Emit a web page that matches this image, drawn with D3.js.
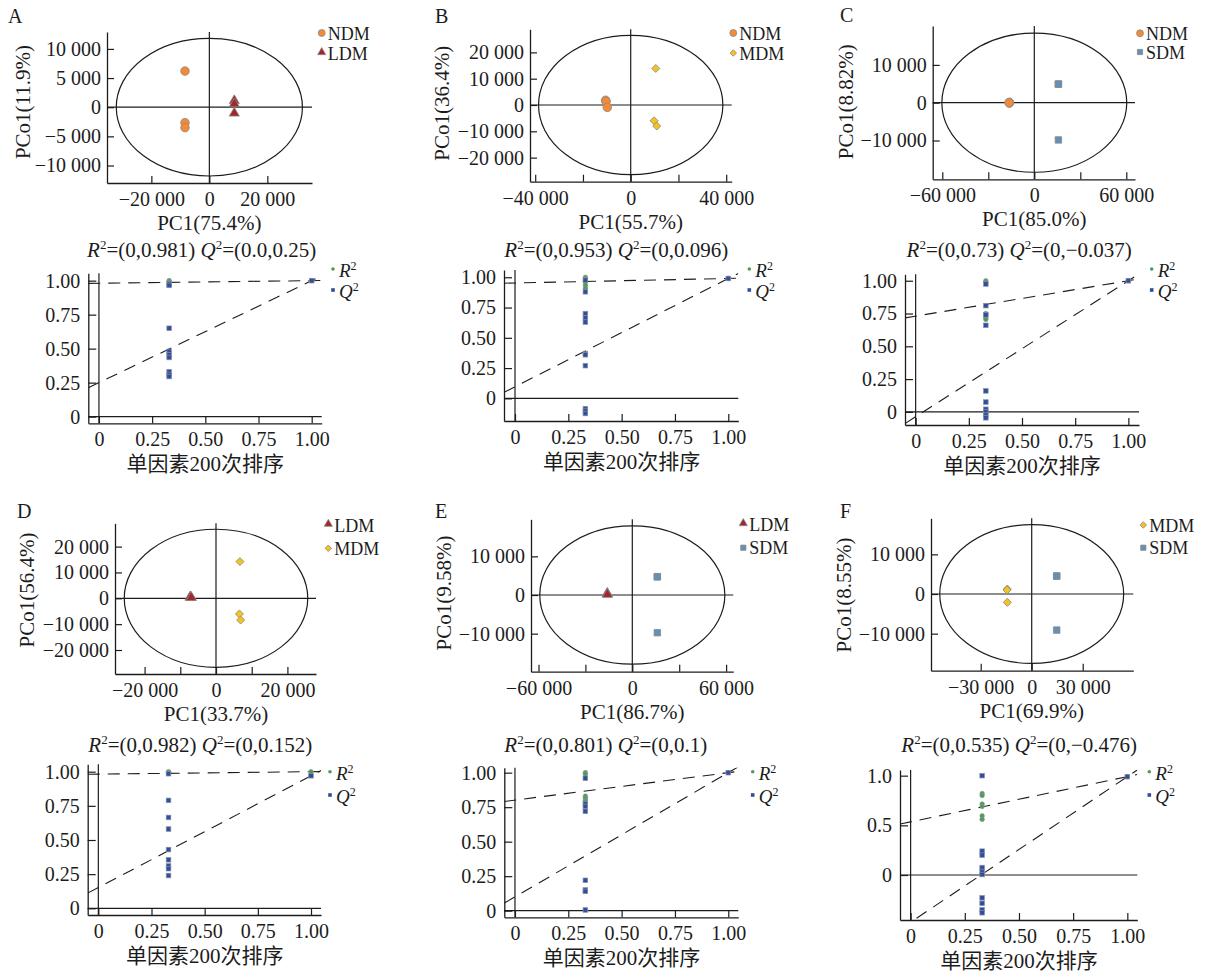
<!DOCTYPE html>
<html><head><meta charset="utf-8">
<script src="https://cdn.jsdelivr.net/npm/d3@7"></script>
<style>
body{margin:0;background:#fff;}
svg{display:block;font-family:"Liberation Serif","Noto Sans CJK SC",serif;}
</style></head><body>
<svg id="chart" width="1209" height="972"></svg>
<script>
// ================= DATA =================
const panelLetters = ["A","B","C","D","E","F"];
const pc1Labels  = ["PC1(75.4%)","PC1(55.7%)","PC1(85.0%)","PC1(33.7%)","PC1(86.7%)","PC1(69.9%)"];
const pco1Labels = ["PCo1(11.9%)","PCo1(36.4%)","PCo1(8.82%)","PCo1(56.4%)","PCo1(9.58%)","PCo1(8.55%)"];
const groupPairs = [["NDM","LDM"],["NDM","MDM"],["NDM","SDM"],["LDM","MDM"],["LDM","SDM"],["MDM","SDM"]];

// PCA scores [PC1, PCo1]
const pcaA_NDM = [[-8400,6200],[-8400,-2650],[-8400,-3500]];
const pcaA_LDM = [[8600,950],[8600,400],[8600,-1200]];
const pcaB_NDM = [[-10500,1800],[-10300,1300],[-9800,-900]];
const pcaB_MDM = [[10500,13900],[9800,-6000],[10900,-8000]];
const pcaC_NDM = [[-16300,100],[-16200,-100],[-16400,0]];
const pcaC_SDM = [[15700,4950],[15700,4900],[15700,-9850]];
const pcaD_LDM = [[-7100,200],[-7300,0],[-6900,-100]];
const pcaD_MDM = [[6700,14200],[6550,-6050],[6900,-8400]];
const pcaE_LDM = [[-16000,200],[-16100,0],[-15900,-100]];
const pcaE_SDM = [[16000,4750],[16000,4700],[16000,-9750]];
const pcaF_MDM = [[-14350,1250],[-14500,1000],[-14350,-2100]];
const pcaF_SDM = [[14700,4550],[14700,4500],[14700,-9100]];
const pcaScores = [[pcaA_NDM,pcaA_LDM],[pcaB_NDM,pcaB_MDM],[pcaC_NDM,pcaC_SDM],
                   [pcaD_LDM,pcaD_MDM],[pcaE_LDM,pcaE_SDM],[pcaF_MDM,pcaF_SDM]];
// confidence ellipse radii [PC1, PCo1]
const ellipseRadii = [[32100,11800],[38600,26500],[60300,18400],[25700,26700],[59200,17900],[54100,17500]];

// axis ticks (marks) and which of them carry labels
const pcaXTicks  = [[-20000,0,20000],[-40000,-20000,0,20000,40000],[-60000,-30000,0,30000,60000],
                    [-20000,-10000,0,10000,20000],[-60000,-30000,0,30000,60000],[-30000,0,30000]];
const pcaXLabels = [[-20000,0,20000],[-40000,0,40000],[-60000,0,60000],[-20000,0,20000],[-60000,0,60000],[-30000,0,30000]];
const pcaYTicks  = [[10000,5000,0,-5000,-10000],[20000,10000,0,-10000,-20000],[10000,0,-10000],
                    [20000,10000,0,-10000,-20000],[10000,0,-10000],[10000,0,-10000]];

// permutation test (200 permutations)
const permX = 0.33;
const permR2A = [1.0,0.995,0.985];
const permQ2A = [0.975,0.965,0.65,0.48,0.455,0.435,0.33,0.31,0.295];
const permR2B = [1.0,0.99,0.975,0.96,0.935,0.91];
const permQ2B = [0.975,0.88,0.70,0.665,0.63,0.37,0.36,0.27,-0.085,-0.105,-0.125];
const permR2C = [1.0,0.99,0.75,0.735,0.72,0.705];
const permQ2C = [0.975,0.81,0.74,0.66,0.16,0.075,0.02,0.0,-0.025,-0.045];
const permR2D = [1.0,0.995,0.99];
const permQ2D = [0.985,0.79,0.665,0.58,0.43,0.355,0.31,0.29,0.24];
const permR2E = [1.0,0.99,0.83,0.815,0.80,0.79];
const permQ2E = [0.96,0.775,0.755,0.72,0.22,0.15,0.14,0.005];
const permR2F = [0.82,0.80,0.715,0.69,0.595,0.56];
const permQ2F = [1.0,0.24,0.20,0.075,0.035,0.005,-0.23,-0.285,-0.35,-0.38];
const permR2 = [permR2A,permR2B,permR2C,permR2D,permR2E,permR2F];
const permQ2 = [permQ2A,permQ2B,permQ2C,permQ2D,permQ2E,permQ2F];
const origR2 = [1.0,0.99,1.0,1.0,1.0,0.99];
const origQ2 = [1.0,0.99,1.0,0.97,1.0,0.99];
const r2Intercepts = [0.981,0.953,0.73,0.982,0.801,0.535];
const q2Intercepts = [0.25,0.096,-0.037,0.152,0.1,-0.476];
const r2Text = ["=(0,0.981) ","=(0,0.953) ","=(0,0.73) ","=(0,0.982) ","=(0,0.801) ","=(0,0.535) "];
const q2Text = ["=(0.0,0.25)","=(0,0.096)","=(0,\u22120.037)","=(0,0.152)","=(0,0.1)","=(0,\u22120.476)"];
const permYTicks = [[0,0.25,0.5,0.75,1],[0,0.25,0.5,0.75,1],[0,0.25,0.5,0.75,1],[0,0.25,0.5,0.75,1],[0,0.25,0.5,0.75,1],[0,0.5,1]];
const permXTicks = [0,0.25,0.5,0.75,1];
const permXTitle = "单因素200次排序";

// ================= STYLE / LAYOUT =================
const INK = "#1c1c1c";
const groupStyle = {
  NDM:{type:"circle",  fill:"#F48A35", size:58},
  LDM:{type:"triangle",fill:"#A3262C", size:44},
  MDM:{type:"diamond", fill:"#F6C21E", size:32},
  SDM:{type:"square",  fill:"#6190B8", size:42}
};
const pcaLayout = [
  {l:107,  r:312,   t:32,    b:183,   xd:[-35300,35400], yd:[-13000,12900], let:[8,22.5],   yt:[23,102],    legX:321.7, legY:[33,53.3]},
  {l:530,  r:731.7, t:29.3,  b:181.7, xd:[-42180,42300], yd:[-29160,28780], let:[435,22.5], yt:[441.7,103.3],legX:733.3, legY:[33,53]},
  {l:932.7,r:1135,  t:26,    b:179.3, xd:[-66260,65670], yd:[-20260,20290], let:[840,22],   yt:[845.5,101.7],legX:1140,  legY:[33.3,52]},
  {l:115,  r:316,   t:523.3, b:674,   xd:[-28290,28010], yd:[-29280,29010], let:[17,518],   yt:[26.7,590],   legX:328.3, legY:[525,548.3]},
  {l:531,  r:733.3, t:519.3, b:671.7, xd:[-64800,64600], yd:[-19840,19590], let:[435,518],  yt:[443.3,593],  legX:743.3, legY:[524.3,547.7]},
  {l:931,  r:1133.3,t:518.3, b:670.7, xd:[-59240,59760], yd:[-19340,19090], let:[840,518],  yt:[843.3,595],  legX:1143.3,legY:[525,547.7]}
];
const permLayout = [
  {l:88.3, r:321.7, t:273.3, b:423.3, xd:[-0.05,1.047],  yd:[-0.049,1.054], title:[201.7,256.7], legX:333,   legY:[269,290]},
  {l:504,  r:738.3, t:270,   b:421,   xd:[-0.0516,1.047],yd:[-0.187,1.06],  title:[616.3,256.7], legX:749.3, legY:[269,290]},
  {l:905,  r:1139,  t:274.3, b:425,   xd:[-0.05,1.05],   yd:[-0.10,1.049],  title:[1019.2,256.7],legX:1151.7,legY:[269,290]},
  {l:87.7, r:321,   t:764.3, b:915,   xd:[-0.05,1.047],  yd:[-0.049,1.054], title:[200.3,751.7], legX:330,   legY:[771.7,795]},
  {l:504.3,r:738.3, t:767.7, b:917.3, xd:[-0.05,1.047],  yd:[-0.048,1.036], title:[605.8,751.7], legX:752.7, legY:[771.7,795]},
  {l:900,  r:1137.3,t:770,   b:920,   xd:[-0.049,1.046], yd:[-0.453,1.057], title:[1019.2,751.7],legX:1149.3,legY:[771.7,795]}
];
const TICK_FS = 20, TITLE_FS = 21, LEG_FS = 18;

const svg = d3.select("#chart");

function fmtK(v){
  const s = Math.abs(v).toString().replace(/\B(?=(\d{3})+(?!\d))/g, " ");
  return (v<0?"\u2212":"")+s;
}
function symbolPath(type,size){
  const t = {circle:d3.symbolCircle,triangle:d3.symbolTriangle,diamond:d3.symbolSquare,square:d3.symbolSquare}[type];
  return d3.symbol().type(t).size(size)();
}
function drawMarker(g,type,fill,size,x,y){
  g.append("path").attr("d",symbolPath(type,size))
    .attr("transform",`translate(${x},${y})`+(type==="diamond"?" rotate(45)":"")+(type==="triangle"?" translate(0,-1)":""))
    .attr("fill",fill).attr("stroke","#8a8a8a").attr("stroke-width",0.8);
}
function styleAxis(g){
  g.selectAll(".domain").attr("stroke",INK).attr("stroke-width",1.3);
  g.selectAll(".tick line").attr("stroke",INK).attr("stroke-width",1.2);
  g.selectAll("text").attr("font-size",TICK_FS).attr("fill",INK).attr("font-family","Liberation Serif");
}

// ================= PCA PANELS =================
pcaLayout.forEach((L,i)=>{
  const g = svg.append("g");
  const x = d3.scaleLinear().domain(L.xd).range([L.l,L.r]);
  const y = d3.scaleLinear().domain(L.yd).range([L.b,L.t]);
  g.append("ellipse").attr("cx",x(0)).attr("cy",y(0))
    .attr("rx",x(ellipseRadii[i][0])-x(0)).attr("ry",y(0)-y(ellipseRadii[i][1]))
    .attr("fill","none").attr("stroke",INK).attr("stroke-width",1.2);
  g.append("line").attr("x1",x(0)).attr("x2",x(0)).attr("y1",L.t).attr("y2",L.b).attr("stroke",INK).attr("stroke-width",1.2);
  g.append("line").attr("x1",L.l).attr("x2",L.r).attr("y1",y(0)).attr("y2",y(0)).attr("stroke",INK).attr("stroke-width",1.2);
  const xl = pcaXLabels[i];
  const gx = g.append("g").attr("transform",`translate(0,${L.b})`)
    .call(d3.axisBottom(x).tickValues(pcaXTicks[i]).tickSizeInner(-7).tickSizeOuter(0).tickPadding(9)
      .tickFormat(d=> xl.includes(d)?fmtK(d):""));
  styleAxis(gx);
  const gy = g.append("g").attr("transform",`translate(${L.l},0)`)
    .call(d3.axisLeft(y).tickValues(pcaYTicks[i]).tickSizeInner(-7).tickSizeOuter(0).tickPadding(6).tickFormat(fmtK));
  styleAxis(gy);
  groupPairs[i].forEach((grp,k)=>{
    const st = groupStyle[grp];
    pcaScores[i][k].forEach(p=> drawMarker(g,st.type,st.fill,st.size,x(p[0]),y(p[1])));
    drawMarker(g,st.type,st.fill,st.size*0.65,L.legX,L.legY[k]);
    g.append("text").attr("x",L.legX+6).attr("y",L.legY[k]+6.5).attr("font-size",LEG_FS).attr("fill",INK).text(grp);
  });
  g.append("text").attr("x",x(0)).attr("y",L.b+47).attr("text-anchor","middle").attr("font-size",TITLE_FS).attr("fill",INK).text(pc1Labels[i]);
  g.append("text").attr("transform",`translate(${L.yt[0]},${L.yt[1]}) rotate(-90)`).attr("dy","0.35em")
    .attr("text-anchor","middle").attr("font-size",TITLE_FS).attr("fill",INK).text(pco1Labels[i]);
  g.append("text").attr("x",L.let[0]).attr("y",L.let[1]).attr("font-size",20).attr("fill",INK).text(panelLetters[i]);
});

// ================= PERMUTATION PANELS =================
const R2_COLOR = "#4E9A5E", Q2_COLOR = "#2E4E9E";
function supLabel(t,letter,x,y){
  const tx = t.append("text").attr("x",x).attr("y",y).attr("font-size",LEG_FS+1).attr("fill",INK);
  tx.append("tspan").attr("font-style","italic").text(letter);
  tx.append("tspan").attr("font-size",12).attr("dy",-7).text("2");
  return tx;
}
permLayout.forEach((L,i)=>{
  const g = svg.append("g");
  const x = d3.scaleLinear().domain(L.xd).range([L.l,L.r]);
  const y = d3.scaleLinear().domain(L.yd).range([L.b,L.t]);
  const cid = "clip"+i;
  g.append("clipPath").attr("id",cid).append("rect").attr("x",L.l).attr("y",L.t).attr("width",L.r-L.l).attr("height",L.b-L.t);
  g.append("line").attr("x1",x(0)).attr("x2",x(0)).attr("y1",L.t).attr("y2",L.b).attr("stroke",INK).attr("stroke-width",1.2);
  g.append("line").attr("x1",L.l).attr("x2",L.r).attr("y1",y(0)).attr("y2",y(0)).attr("stroke",INK).attr("stroke-width",1.2);
  const dec = permYTicks[i].length===3 ? 1 : 2;
  const fmt = d=> d===0 ? "0" : d.toFixed(dec);
  const gx = g.append("g").attr("transform",`translate(0,${L.b})`)
    .call(d3.axisBottom(x).tickValues(permXTicks).tickSizeInner(-7).tickSizeOuter(0).tickPadding(9).tickFormat(d=> d===0?"0":d.toFixed(2)));
  styleAxis(gx);
  const gy = g.append("g").attr("transform",`translate(${L.l},0)`)
    .call(d3.axisLeft(y).tickValues(permYTicks[i]).tickSizeInner(-8).tickSizeOuter(0).tickPadding(8).tickFormat(fmt));
  styleAxis(gy);
  const lineGen = d3.line().x(d=>x(d[0])).y(d=>y(d[1]));
  [[r2Intercepts[i],origR2[i]],[q2Intercepts[i],origQ2[i]]].forEach(([b,e])=>{
    const x0 = L.xd[0], x1 = L.xd[1];
    g.append("path").attr("d",lineGen([[x0,b+(e-b)*x0],[x1,b+(e-b)*x1]]))
      .attr("clip-path",`url(#${cid})`).attr("fill","none").attr("stroke",INK).attr("stroke-width",1.1).attr("stroke-dasharray","12,8");
  });
  const R2pts = permR2[i].map(v=>[permX,v]).concat([[1,origR2[i]]]);
  const Q2pts = permQ2[i].map(v=>[permX,v]).concat([[1,origQ2[i]]]);
  R2pts.forEach(p=> g.append("circle").attr("cx",x(p[0])).attr("cy",y(p[1])).attr("r",2.3).attr("fill",R2_COLOR).attr("stroke","#8a9a8a").attr("stroke-width",0.6));
  Q2pts.forEach(p=> g.append("rect").attr("x",x(p[0])-2.3).attr("y",y(p[1])-2.3).attr("width",4.6).attr("height",4.6).attr("fill",Q2_COLOR).attr("stroke","#8a8fa5").attr("stroke-width",0.7));
  g.append("circle").attr("cx",L.legX).attr("cy",L.legY[0]).attr("r",1.8).attr("fill",R2_COLOR);
  supLabel(g,"R",L.legX+6,L.legY[0]+8);
  g.append("rect").attr("x",L.legX-1.8).attr("y",L.legY[1]-1.8).attr("width",3.6).attr("height",3.6).attr("fill",Q2_COLOR);
  supLabel(g,"Q",L.legX+6,L.legY[1]+8);
  const tt = g.append("text").attr("x",L.title[0]).attr("y",L.title[1]).attr("font-size",TITLE_FS).attr("fill",INK).attr("text-anchor","middle");
  tt.append("tspan").attr("font-style","italic").text("R");
  tt.append("tspan").attr("font-size",13).attr("dy",-8).text("2");
  tt.append("tspan").attr("dy",8).text(r2Text[i]);
  tt.append("tspan").attr("font-style","italic").text("Q");
  tt.append("tspan").attr("font-size",13).attr("dy",-8).text("2");
  tt.append("tspan").attr("dy",8).text(q2Text[i]);
  g.append("text").attr("x",x(0.5)).attr("y",L.b+48).attr("text-anchor","middle").attr("font-size",TITLE_FS).attr("fill",INK).text(permXTitle);
});
</script></body></html>
